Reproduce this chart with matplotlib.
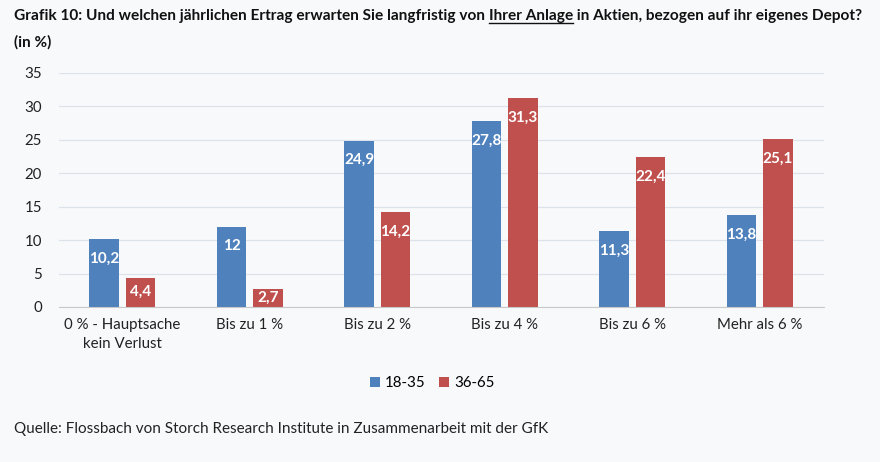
import numpy as np
import matplotlib
matplotlib.use("Agg")
import matplotlib.pyplot as plt

# values
categories = ["0 % - Hauptsache\nkein Verlust", "Bis zu 1 %", "Bis zu 2 %",
              "Bis zu 4 %", "Bis zu 6 %", "Mehr als 6 %"]
young = [10.2, 12, 24.9, 27.8, 11.3, 13.8]
older = [4.4, 2.7, 14.2, 31.3, 22.4, 25.1]
series_names = ["18-35", "36-65"]
yticks = [0, 5, 10, 15, 20, 25, 30, 35]

blue = "#4F81BD"
red = "#C0504D"
bg = "#f8f9fa"

plt.rcParams['font.family'] = ['Lato', 'DejaVu Sans']

fig = plt.figure(figsize=(8.8, 4.62), dpi=100, facecolor=bg)
ax = fig.add_axes([58.5/880, 1-307/462, 765/880, 234/462])
ax.set_facecolor(bg)

x = np.arange(len(categories))
w = 0.228
off = 0.143
b1 = ax.bar(x - off, young, w, color=blue, label=series_names[0], zorder=3)
b2 = ax.bar(x + off, older, w, color=red, label=series_names[1], zorder=3)

def fmt(v):
    return ("%g" % v).replace(".", ",")

for xs, vals in ((x - off, young), (x + off, older)):
    for xi, v in zip(xs, vals):
        ypos = v - min(2.95, v / 2)
        ax.text(xi, ypos, fmt(v), ha="center", va="center", color="white",
                fontsize=11, fontweight="bold", zorder=4)

ax.set_xlim(-0.5, len(categories) - 0.5)
ax.set_ylim(0, 35)
ax.set_yticks(yticks)
ax.set_xticks(x)
ax.set_xticklabels(categories, fontsize=10.8, color="#222222", linespacing=1.4)
ax.tick_params(axis="y", labelsize=10.8, colors="#222222", length=0, pad=12)
ax.tick_params(axis="x", length=0, pad=8)
ax.grid(axis="y", color="#dde3ec", linewidth=0.9, zorder=0)
for s in ("top", "right", "left"):
    ax.spines[s].set_visible(False)
ax.spines["bottom"].set_color("#c8c8c8")
ax.spines["bottom"].set_zorder(5)

leg = fig.legend(handles=[b1, b2], loc="center", bbox_to_anchor=(432/880, 1-383/462),
                 ncol=2, frameon=False, fontsize=10.8, handlelength=0.7, handleheight=0.7,
                 handletextpad=0.3, columnspacing=0.9)

# title with underlined part
renderer = fig.canvas.get_renderer()
parts = ["Grafik 10: Und welchen jährlichen Ertrag erwarten Sie langfristig von ",
         "Ihrer Anlage", " in Aktien, bezogen auf ihr eigenes Depot?"]
xpix = 14
ty = 1 - 20/462
for i, p in enumerate(parts):
    t = fig.text(xpix/880, ty, p, fontsize=11.1, fontweight="bold", color="#111111",
                 ha="left", va="baseline")
    bb = t.get_window_extent(renderer)
    if i == 1:
        fig.add_artist(plt.Line2D([bb.x0/880, bb.x1/880], [ty - 3/462, ty - 3/462],
                                  transform=fig.transFigure, color="#111111", linewidth=1.0))
    xpix = bb.x1
fig.text(14/880, 1 - 47/462, "(in %)", fontsize=11.1, fontweight="bold", color="#111111",
         ha="left", va="baseline")

fig.text(14/880, 1 - 433/462,
         "Quelle: Flossbach von Storch Research Institute in Zusammenarbeit mit der GfK",
         fontsize=11, color="#222222", ha="left", va="baseline")

fig.savefig("out.png", dpi=100, facecolor=bg)
